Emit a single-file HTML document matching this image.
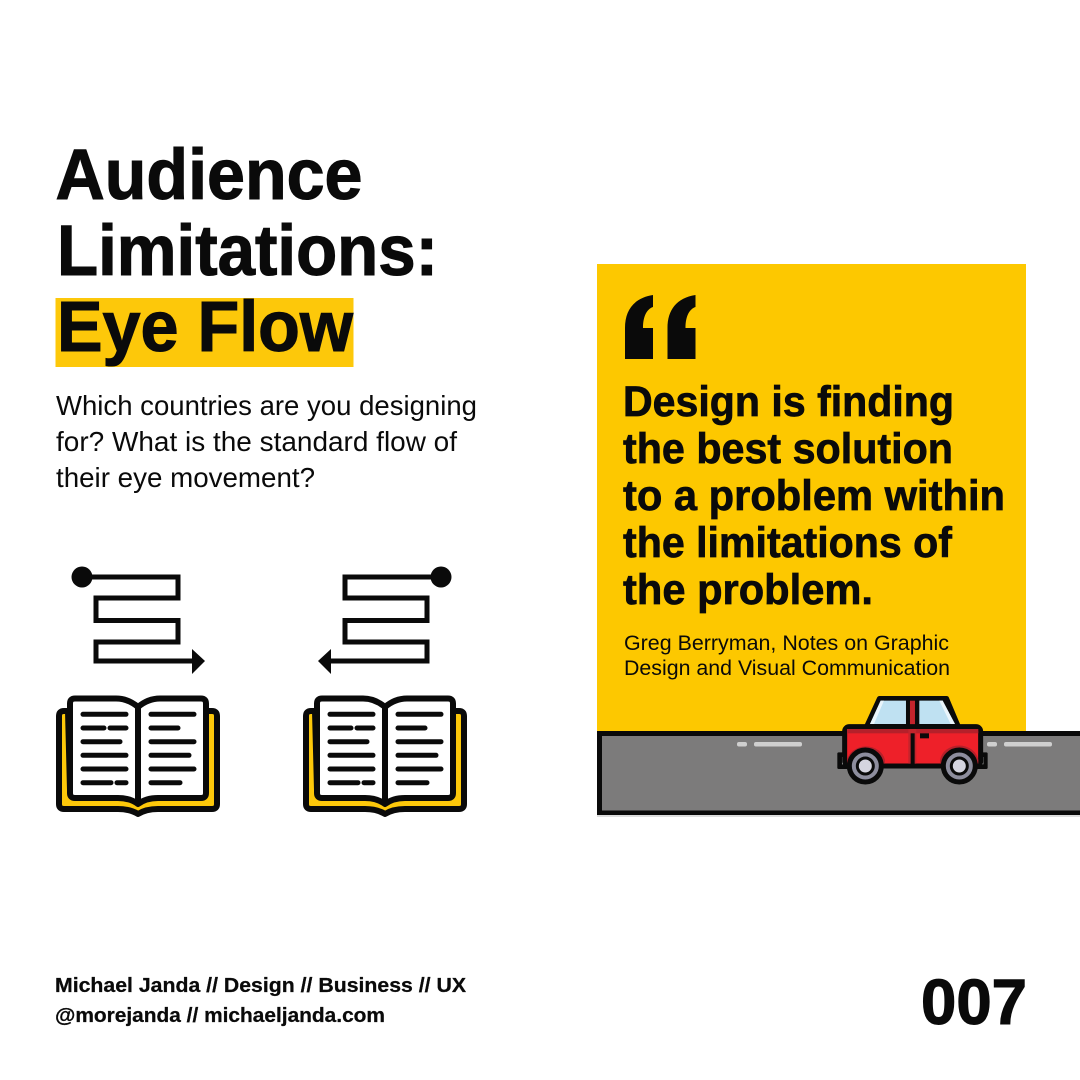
<!DOCTYPE html>
<html>
<head>
<meta charset="utf-8">
<style>
html,body{margin:0;padding:0;background:#fff;width:1080px;height:1080px;overflow:hidden}
svg{display:block}
text{font-family:"Liberation Sans",Arial,sans-serif;fill:#0a0a0a}
.b{font-weight:700}
.t{stroke:#0a0a0a;stroke-width:1.1px}
.q{stroke:#0a0a0a;stroke-width:.7px}
.f{stroke:#0a0a0a;stroke-width:.25px}
</style>
</head>
<body>
<svg width="1080" height="1080" viewBox="0 0 1080 1080" xmlns="http://www.w3.org/2000/svg">
<defs>
<g id="book">
  <path d="M68,711 H64 q-5 0 -5 5 V804 q0 5 5 5 H118 Q130,809 138,814 Q146,809 158,809 H212 q5 0 5 -5 V716 q0 -5 -5 -5 H206 V790 H70 Z" fill="#fdc80a" stroke="#0a0a0a" stroke-width="6" stroke-linejoin="round"/>
  <path d="M138,707 Q128,698.5 116,698.5 H75 q-5 0 -5 5 V793 q0 5 5 5 H118 Q130,798 138,804 Q146,798 158,798 H201 q5 0 5 -5 V703.5 q0 -5 -5 -5 H160 Q148,698.5 138,707Z" fill="#fff" stroke="#0a0a0a" stroke-width="6" stroke-linejoin="round"/>
  <path d="M138,707 V804" stroke="#0a0a0a" stroke-width="6" fill="none"/>
  <g stroke="#0a0a0a" stroke-width="5" stroke-linecap="round" fill="none">
    <path d="M83,714.3 H126 M83,728 H104 M110,728 H126 M83,741.7 H120 M83,755.3 H126 M83,769 H126 M83,782.7 H111 M117,782.7 H126"/>
    <path d="M151,714.3 H194 M151,728 H178 M151,741.7 H194 M151,755.3 H189 M151,769 H194 M151,782.7 H180"/>
  </g>
</g>
</defs>

<rect width="1080" height="1080" fill="#fff"/>

<!-- Title -->
<text class="b t" x="55.500" y="199" font-size="71" textLength="307" lengthAdjust="spacingAndGlyphs">Audience</text>
<text class="b t" x="57" y="275" font-size="71" textLength="381" lengthAdjust="spacingAndGlyphs">Limitations:</text>
<rect x="55.500" y="298" width="298" height="69" fill="#fdc80a"/>
<text class="b t" x="57" y="351" font-size="71" textLength="296" lengthAdjust="spacingAndGlyphs">Eye Flow</text>

<!-- Body -->
<text x="56" y="415" font-size="27.500" textLength="421" lengthAdjust="spacingAndGlyphs">Which countries are you designing</text>
<text x="56" y="451" font-size="27.500" textLength="401" lengthAdjust="spacingAndGlyphs">for? What is the standard flow of</text>
<text x="56" y="487" font-size="27.500" textLength="259" lengthAdjust="spacingAndGlyphs">their eye movement?</text>

<!-- Eye flow left -->
<circle cx="82" cy="577" r="10.500" fill="#0a0a0a"/>
<path d="M82,577 H178 V598 H96 V620.500 H178 V642 H96 V661 H195" fill="none" stroke="#0a0a0a" stroke-width="5"/>
<path d="M192,649 L205,661 L192,674 Z" fill="#0a0a0a"/>

<!-- Eye flow right -->
<circle cx="441" cy="577" r="10.500" fill="#0a0a0a"/>
<path d="M441,577 H345 V598 H427 V620.500 H345 V642 H427 V661 H328" fill="none" stroke="#0a0a0a" stroke-width="5"/>
<path d="M331,649 L318,661 L331,674 Z" fill="#0a0a0a"/>

<use href="#book"/>
<use href="#book" transform="translate(247,0)"/>

<!-- Yellow panel -->
<rect x="597" y="264" width="429" height="476" fill="#fdc800"/>
<path d="M653,295 V307 C647,309 643,316 643,328 H653 V359 H625 V328 C625,310 634,298 653,295 Z" fill="#0a0a0a"/>
<path d="M695.500,295 V307 C689.500,309 685.500,316 685.500,328 H695.500 V359 H667.500 V328 C667.500,310 676.500,298 695.500,295 Z" fill="#0a0a0a"/>

<text class="b q" x="623" y="416" font-size="43" textLength="331" lengthAdjust="spacingAndGlyphs">Design is finding</text>
<text class="b q" x="623" y="463" font-size="43" textLength="330" lengthAdjust="spacingAndGlyphs">the best solution</text>
<text class="b q" x="623" y="510" font-size="43" textLength="382" lengthAdjust="spacingAndGlyphs">to a problem within</text>
<text class="b q" x="623" y="557" font-size="43" textLength="329" lengthAdjust="spacingAndGlyphs">the limitations of</text>
<text class="b q" x="623" y="604" font-size="43" textLength="250" lengthAdjust="spacingAndGlyphs">the problem.</text>

<text x="624" y="650" font-size="21.500" textLength="325" lengthAdjust="spacingAndGlyphs">Greg Berryman, Notes on Graphic</text>
<text x="624" y="675" font-size="21.500" textLength="326" lengthAdjust="spacingAndGlyphs">Design and Visual Communication</text>

<!-- Road -->
<rect x="599.500" y="733.500" width="490" height="79.500" fill="#7c7b7b" stroke="#0a0a0a" stroke-width="5"/>
<rect x="597" y="815" width="483" height="2" fill="#ddd"/>
<g fill="#cfcfcf">
  <rect x="737" y="742" width="10" height="4.500" rx="2"/>
  <rect x="754" y="742" width="48" height="4.500" rx="2"/>
  <rect x="987" y="742" width="10" height="4.500" rx="2"/>
  <rect x="1004" y="742" width="48" height="4.500" rx="2"/>
</g>

<!-- Car -->
<g transform="translate(720,680) scale(0.3333)">
  <path d="M478,55 H680 L715,138 H440 Z" fill="#0a0a0a" stroke="#0a0a0a" stroke-width="14" stroke-linejoin="round"/>
  <path d="M482,62 H558 V132 H450 Z" fill="#bfe1f2"/>
  <path d="M598,62 H668 L705,132 H598 Z" fill="#bfe1f2"/>
  <path d="M482,62 H492 L462,132 H450 Z" fill="#eaf5fb"/>
  <path d="M668,62 L705,132 H692 L658,62 Z" fill="#eaf5fb"/>
  <rect x="570" y="62" width="15" height="80" fill="#c4242c"/>
  <rect x="352" y="217" width="50" height="50" rx="4" fill="#0a0a0a"/>
  <rect x="753" y="217" width="50" height="50" rx="4" fill="#0a0a0a"/>
  <rect x="366" y="231" width="20" height="22" fill="#e8e8e8"/>
  <rect x="770" y="231" width="20" height="22" fill="#e8e8e8"/>
  <rect x="374" y="140" width="408" height="118" rx="14" fill="#ee2029" stroke="#0a0a0a" stroke-width="15"/>
  <rect x="381" y="147" width="394" height="13" fill="#b5202a"/>
  <rect x="565" y="147" width="24" height="104" fill="#c4242c"/>
  <rect x="572" y="160" width="12" height="100" fill="#0a0a0a"/>
  <rect x="600" y="160" width="27" height="15" fill="#0a0a0a"/>
  <path d="M381,251 V240 A58,50 0 0 1 495,240 V251 Z" fill="#b5202a"/>
  <path d="M660,251 V240 A58,50 0 0 1 775,240 V251 Z" fill="#b5202a"/>
  <circle cx="436" cy="258" r="48" fill="#8d8d9d" stroke="#0a0a0a" stroke-width="15"/>
  <circle cx="436" cy="258" r="24" fill="#d5d5e0" stroke="#0a0a0a" stroke-width="9"/>
  <circle cx="718" cy="258" r="48" fill="#8d8d9d" stroke="#0a0a0a" stroke-width="15"/>
  <circle cx="718" cy="258" r="24" fill="#d5d5e0" stroke="#0a0a0a" stroke-width="9"/>
</g>

<!-- Footer -->
<text class="b f" x="55" y="992" font-size="20" textLength="411" lengthAdjust="spacingAndGlyphs">Michael Janda // Design // Business // UX</text>
<text class="b f" x="55" y="1022" font-size="20" textLength="330" lengthAdjust="spacingAndGlyphs">@morejanda // michaeljanda.com</text>
<text class="b t" x="921" y="1024" font-size="64" textLength="106" lengthAdjust="spacingAndGlyphs">007</text>
</svg>
</body>
</html>
